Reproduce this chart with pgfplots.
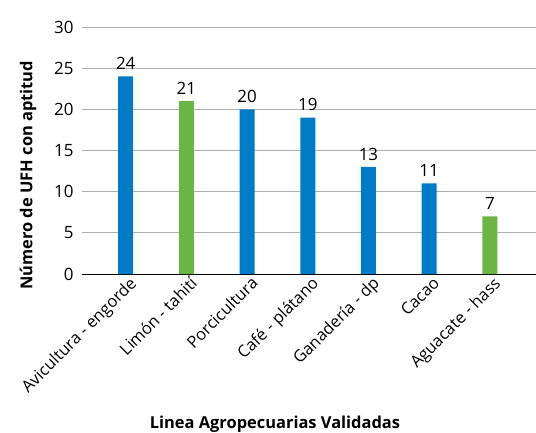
\documentclass[border=0pt]{standalone}
\usepackage{fontspec}
\setmainfont{Open Sans}
\usepackage{pgfplots}
\pgfplotsset{compat=1.18}
\definecolor{cblue}{RGB}{0,123,200}
\definecolor{cgreen}{RGB}{106,181,68}
\definecolor{cgrid}{RGB}{175,175,175}
\begin{document}
\begin{tikzpicture}
\begin{axis}[
  name=ax,
  scale only axis,
  width=454bp, height=247bp,
  ymin=0, ymax=30,
  xmin=-0.72, xmax=6.76,
  ytick={0,5,...,30},
  ymajorgrids,
  grid style={cgrid, line width=0.8pt},
  axis x line*=bottom,
  axis y line*=left,
  y axis line style={draw=none},
  x axis line style={black, line width=0.8pt},
  xtick={0,...,6},
  xticklabels={Avicultura - engorde, Limón - tahití, Porcicultura, Café - plátano, Ganadería - dp, Cacao, Aguacate - hass},
  major tick length=0pt,
  xticklabel style={rotate=45, anchor=north east, inner sep=1pt, xshift=2bp, yshift=-2bp, font=\fontsize{16.5}{19}\selectfont},
  yticklabel style={font=\fontsize{17}{20}\selectfont, xshift=-5bp},
  /pgf/number format/assume math mode=true,
  ylabel={\bfseries Número de UFH con aptitud},
  ylabel style={at={(axis description cs:-0.119,0.40)}, anchor=center, rotate=0, font=\fontsize{16.5}{19}\selectfont},
  xlabel={\bfseries Linea Agropecuarias Validadas},
  xlabel style={at={(axis description cs:0.425,-0.607)}, anchor=center, font=\fontsize{16.5}{19}\selectfont},
  ybar, bar width=15bp, bar shift=0pt,
  nodes near coords,
  every node near coord/.append style={font=\fontsize{17}{20}\selectfont, black, yshift=3bp},
  clip=false,
]
\addplot[fill=cblue, draw=none] coordinates {(0,24) (2,20) (3,19) (4,13) (5,11)};
\addplot[fill=cgreen, draw=none] coordinates {(1,21) (6,7)};
\end{axis}
\pgfresetboundingbox
\path[use as bounding box] ([shift={(-82bp,-159bp)}]ax.south west) rectangle ([shift={(454bp,274bp)}]ax.south west);
\end{tikzpicture}
\end{document}
